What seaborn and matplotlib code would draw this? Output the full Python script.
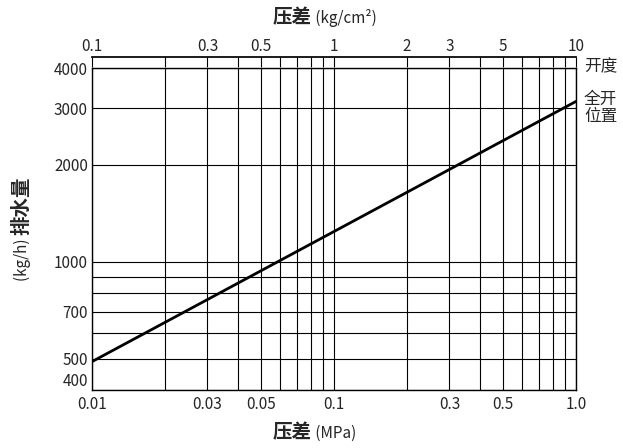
import matplotlib
matplotlib.use("Agg")
import matplotlib.pyplot as plt
import seaborn as sns

sns.set_theme(style="white")
plt.rcParams['font.family'] = ['Noto Sans CJK SC', 'DejaVu Sans']

pressure_mpa = [0.01, 1.0]
flow_kgh = [490, 3150]
x_ticks = [0.01, 0.03, 0.05, 0.1, 0.3, 0.5, 1.0]
x_labels = ["0.01", "0.03", "0.05", "0.1", "0.3", "0.5", "1.0"]
top_ticks = [0.1,0.2,0.3,0.4,0.5,0.6,0.7,0.8,0.9,1,2,3,4,5,6,7,8,9,10]
top_labels = ["0.1","","0.3","","0.5","","","","","1","2","3","","5","","","","","10"]
y_ticks = [400, 500, 700, 1000, 2000, 3000, 4000]
y_grid = [400, 500, 600, 700, 800, 900, 1000, 2000, 3000, 4000]
x_grid = [0.01, 0.02, 0.03, 0.04, 0.05, 0.06, 0.07, 0.08, 0.09, 0.1,
          0.2, 0.3, 0.4, 0.5, 0.6, 0.7, 0.8, 0.9, 1.0]

fig = plt.figure(figsize=(6.23, 4.48), dpi=100)
ax = fig.add_axes([92/623, 58/448, 484/623, 322/448])
ax.set_xscale('log'); ax.set_yscale('log')
ax.set_xlim(0.01, 1.0); ax.set_ylim(400, 4000)
for xv in x_grid:
    ax.axvline(xv, color='black', lw=0.8)
for yv in y_grid:
    ax.axhline(yv, color='black', lw=0.8)
sns.lineplot(x=pressure_mpa, y=flow_kgh, ax=ax, color='black', lw=2)
ax.set_xticks(x_ticks); ax.set_xticklabels(x_labels, fontsize=11)
ax.set_xticks([], minor=True)
ax.set_yticks(y_ticks); ax.set_yticklabels([str(v) for v in y_ticks], fontsize=11)
ax.set_yticks([], minor=True)
ax.tick_params(length=0)
ax.tick_params(axis='x', pad=4)
ax.tick_params(axis='y', pad=3)
for lab in ax.get_yticklabels():
    if lab.get_text() == "400":
        lab.set_va('bottom')
for s in ax.spines.values():
    s.set_color('black'); s.set_linewidth(1)
ax.set_xlabel(""); ax.set_ylabel("")

top = ax.twiny()
top.set_xscale('log'); top.set_xlim(0.1, 10)
top.set_xticks(top_ticks); top.set_xticklabels(top_labels, fontsize=11)
top.set_xticks([], minor=True)
top.spines['top'].set_position(('outward', 8))
top.spines['top'].set_color('black')
top.tick_params(axis='x', direction='in', length=7, pad=1, color='black', width=0.8)
for s in ['left', 'right', 'bottom']:
    top.spines[s].set_visible(False)

fig.text(0.5, 1-18/448, "压差", fontsize=14, fontweight='bold', ha='right', va='center')
fig.text(0.5, 1-18/448, " (kg/cm²)", fontsize=11, ha='left', va='center')
fig.text(0.5, 1-433/448, "压差", fontsize=14, fontweight='bold', ha='right', va='center')
fig.text(0.5, 1-433/448, " (MPa)", fontsize=11, ha='left', va='center')
fig.text(22/623, 1-235/448, "排水量", fontsize=14, fontweight='bold', rotation=90, ha='center', va='bottom')
fig.text(22/623, 1-235/448, "(kg/h) ", fontsize=11, rotation=90, ha='center', va='top')

fig.text(584/623, 1-67/448, "开度", fontsize=12, va='center', ha='left')
fig.text(584/623, 1-108/448, "全开\n位置", fontsize=12, va='center', ha='left', linespacing=1.0)
fig.savefig("out.png", dpi=100)
